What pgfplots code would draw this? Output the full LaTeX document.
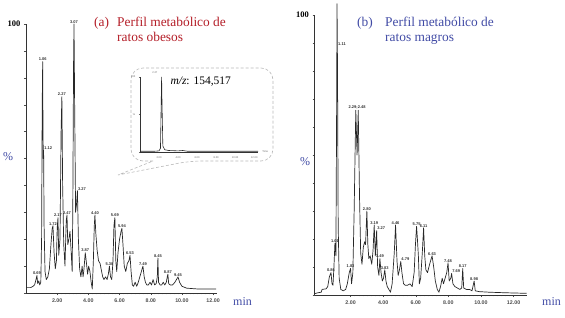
\documentclass[border=0pt]{standalone}
\usepackage{fontspec}
\setmainfont{Liberation Serif}
\newfontfamily\arial{Liberation Sans}
\usepackage{pgfplots}
\pgfplotsset{compat=1.18}
\definecolor{tred}{RGB}{180,30,40}
\definecolor{tblue}{RGB}{65,75,165}
\definecolor{chrom}{RGB}{40,40,40}

\tikzset{lab/.style={font=\arial\bfseries\fontsize{4bp}{4.5bp}\selectfont, text=black!80, inner sep=0.5pt}}

\pgfplotsset{
  chromstyle/.style={
    scale only axis, axis lines=left,
    axis line style={-, black!80, line width=0.55pt},
    tick align=outside, tick style={black!70, line width=0.4pt},
    major tick length=2.2bp, minor tick length=1.4bp,
    xtick={2,4,6,8,10,12}, xticklabels={2.00,4.00,6.00,8.00,10.00,12.00},
    minor x tick num=7,
    ytick={0,10,...,100}, yticklabels={,,,,,,,,,,100},
    xticklabel style={font=\arial\bfseries\fontsize{5.3bp}{6bp}\selectfont, text=black!70},
    yticklabel style={font=\bfseries\fontsize{8.5bp}{10bp}\selectfont},
    ymin=0, ymax=100, clip=false,
  },
  peaklab/.style={draw=none, nodes near coords, point meta=explicit symbolic,
    every node near coord/.append style={font=\arial\bfseries\fontsize{4bp}{4.5bp}\selectfont,
      text=black!80, inner sep=0.5pt, anchor=#1}},
  peaklab/.default=south,
  chromline/.style={chrom, line width=0.7pt, line join=round},
}

\pgfplotstableread{
t y
0.00 2.0
0.30 2.0
0.45 2.5
0.55 3.0
0.62 4.5
0.70 6.5
0.75 3.5
0.82 4.5
0.88 3.0
0.95 4.0
1.00 20
1.04 70
1.07 86
1.09 60
1.11 50
1.13 53
1.16 25
1.22 8
1.30 5
1.40 6
1.50 9
1.60 18
1.68 24
1.73 25
1.80 15
1.88 9
1.95 12
2.00 24
2.05 28
2.10 14
2.18 20
2.25 60
2.30 73
2.35 40
2.42 18
2.50 10
2.58 27
2.63 29
2.68 18
2.75 20
2.82 23
2.90 15
2.96 8
3.00 30
3.05 85
3.08 100
3.12 70
3.18 30
3.24 33
3.30 38
3.36 20
3.44 9
3.52 6
3.60 10
3.66 6
3.72 9
3.80 15
3.88 11
3.95 7
4.02 10
4.10 8
4.18 4
4.25 1.5
4.32 12
4.38 25
4.42 29
4.48 22
4.56 16
4.65 12
4.75 11
4.85 8
4.92 6
5.00 5
5.10 6
5.20 5
5.28 7
5.35 10
5.42 6
5.50 5
5.58 12
5.64 25
5.70 28
5.76 12
5.82 8
5.90 15
6.00 20
6.10 23
6.15 24
6.22 18
6.30 10
6.40 8
6.50 11
6.60 12
6.67 14
6.74 8
6.82 3
6.90 2.5
7.00 4
7.10 2.5
7.20 4
7.30 6
7.40 8
7.50 10
7.58 6
7.66 4
7.75 3
7.85 3
7.95 4
8.05 3
8.15 5
8.25 3
8.35 3.5
8.42 6
8.46 13
8.50 4
8.60 3
8.70 3
8.80 4
8.90 3
9.00 4
9.06 6
9.10 7
9.15 3.5
9.25 3
9.40 3
9.55 4
9.65 5
9.75 6
9.85 4
10.00 2.5
10.30 1.8
11.00 1.5
12.00 1.5
12.20 1.5
}\obesos

\pgfplotstableread{
t y l
0.70 6.5 0.69
1.07 86 1.06
1.73 25 1.72
2.05 28 2.17
2.30 73 2.27
2.63 29 2.47
3.08 100 3.07
3.80 15 3.87
4.42 29 4.40
5.35 10 5.30
5.70 28 5.69
6.15 24 5.94
6.67 14 6.53
7.50 10 7.49
8.46 13 8.45
9.10 7 8.87
9.75 6 9.45
}\obesoslab

\pgfplotstableread{
t y l
1.13 53 1.12
3.30 38 3.27
}\obesoslabw

\pgfplotstableread{
t y
-0.20 0.5
0.00 0.8
0.20 1.0
0.25 2.0
0.50 2.2
0.60 3.0
0.70 6.5
0.80 8.0
0.86 4.0
0.92 3.5
0.98 10
1.04 18.5
1.10 14
1.14 60
1.17 104
1.20 80
1.24 25
1.30 6
1.40 2
1.55 1.5
1.70 2
1.80 4
1.92 8
2.00 9.5
2.06 4
2.14 8
2.22 30
2.32 66
2.40 50
2.47 66
2.55 35
2.62 15
2.70 11
2.78 17
2.86 19
2.92 18
3.00 30
3.06 18
3.12 13
3.20 14
3.30 11
3.38 16
3.45 25
3.52 14
3.60 23
3.66 10
3.74 7
3.80 13
3.87 8
3.95 5
4.02 6
4.10 9
4.17 5
4.25 3
4.35 2
4.45 1
4.55 4
4.68 15
4.76 25
4.85 12
4.92 7
5.00 9
5.08 12
5.15 8
5.25 4
5.35 3.5
5.50 3.5
5.65 4
5.78 3
5.90 8
5.98 18
6.05 24.5
6.10 20
6.16 14
6.22 4
6.30 6
6.40 15
6.48 24
6.55 14
6.62 9
6.72 8
6.85 11
7.00 14
7.10 10
7.20 5
7.32 2
7.42 1
7.52 3
7.62 6
7.70 4
7.80 6
7.90 8
7.98 11.5
8.05 5
8.15 6
8.20 7.7
8.28 4
8.40 3
8.55 2.5
8.70 2
8.82 2.5
8.88 9.5
8.94 2.5
9.10 2
9.30 2
9.45 1.5
9.58 5
9.65 1.5
9.90 1.2
10.50 1.0
11.50 0.8
12.80 0.6
}\magros

\pgfplotstableread{
t y l
0.80 8 0.86
1.04 18.5 1.01
2.00 9.5 1.83
3.00 30 2.80
3.45 25 3.19
3.80 13 3.49
4.10 9 3.83
4.76 25 4.46
6.05 24.5 5.75
6.48 24 6.11
7.00 14 6.63
7.98 11.5 7.48
8.88 9.5 8.17
9.58 5 8.98
}\magroslab

\pgfplotstableread{
t y l
1.20 89 1.11
3.60 23 3.27
5.08 12 4.79
8.20 7.7 7.69
}\magroslabw

\pgfplotstableread{
t y
0.00 1
1.50 1
2.00 1.5
2.15 5
2.22 60
2.27 100
2.32 60
2.40 8
2.60 3
3.00 2
4.00 1.5
4.50 2
5.00 1
8.00 1
12.40 1
}\inset

\begin{document}
\begin{tikzpicture}[x=1bp,y=1bp]
\path[use as bounding box] (0,0) rectangle (565,317);

% ---------- left panel ----------
\begin{axis}[chromstyle, at={(26bp,24bp)}, anchor=south west,
  width=191bp, height=269bp, xmin=0, xmax=12.25]
\addplot[chromline] table[x=t,y=y] {\obesos};
\addplot[peaklab] table[x=t,y=y,meta=l] {\obesoslab};
\addplot[peaklab=south west] table[x=t,y=y,meta=l] {\obesoslabw};
\end{axis}

% ---------- right panel ----------
\begin{axis}[chromstyle, at={(314.7bp,22bp)}, anchor=south west,
  width=211.9bp, height=280bp, xmin=-0.2, xmax=12.8]
\addplot[chromline] table[x=t,y=y] {\magros};
\addplot[peaklab] table[x=t,y=y,meta=l] {\magroslab};
\addplot[peaklab=south west] table[x=t,y=y,meta=l] {\magroslabw};
\node[lab, anchor=south] at (axis cs:2.40,66) {2.29;2.48};
\end{axis}

% ---------- callout ----------
\draw[gray!55, densely dashed, line width=0.6pt]
  (153,156) [rounded corners=12bp] -- (131,156) -- (131,249) -- (273,249) -- (273,156) -- (190,156)
  [sharp corners] -- (118,142) -- (153,156);

\begin{axis}[scale only axis, at={(140bp,165bp)}, anchor=south west,
  width=118bp, height=75bp, xmin=0, xmax=12.4, ymin=0, ymax=100,
  axis lines=left, axis line style={-, black!80, line width=0.45pt},
  tick align=outside, tick style={black!60, line width=0.3pt},
  major tick length=1.2bp, minor tick length=0.8bp,
  xtick={2,4,6,8,10,12}, xticklabels={2.00,4.00,6.00,8.00,10.00,12.00},
  minor x tick num=3,
  ytick={0,50,100}, yticklabels={,\%,100},
  xticklabel style={font=\arial\fontsize{2.6bp}{3bp}\selectfont, text=black!60},
  yticklabel style={font=\arial\fontsize{2.6bp}{3bp}\selectfont, text=black!60},
  clip=false]
\addplot[chrom, line width=0.6pt] table[x=t,y=y] {\inset};
\node[font=\arial\fontsize{2.6bp}{3bp}\selectfont, text=black!60, anchor=west] at (axis cs:12.5,0) {Time};
\node[font=\arial\fontsize{2.6bp}{3bp}\selectfont, text=black!60, anchor=south east] at (axis cs:2.2,100) {2.27};
\end{axis}
\node[anchor=base west, font=\fontsize{11.5bp}{13bp}\selectfont] at (167,233) {\textit{m/z}: 154,517};

% ---------- titles and labels ----------
\node[anchor=base west, inner sep=0, text=tred, font=\fontsize{13.4bp}{16bp}\selectfont] at (94,291) {(a)};
\node[anchor=base west, inner sep=0, text=tred, font=\fontsize{13.4bp}{16bp}\selectfont] at (117,291) {Perfil metabólico de};
\node[anchor=base west, inner sep=0, text=tred, font=\fontsize{13.4bp}{16bp}\selectfont] at (117,276) {ratos obesos};

\node[anchor=base west, inner sep=0, text=tblue, font=\fontsize{13.4bp}{16bp}\selectfont] at (357,291) {(b)};
\node[anchor=base west, inner sep=0, text=tblue, font=\fontsize{13.4bp}{16bp}\selectfont] at (385,291) {Perfil metabólico de};
\node[anchor=base west, inner sep=0, text=tblue, font=\fontsize{13.4bp}{16bp}\selectfont] at (385,276) {ratos magros};

\node[inner sep=0, text=tblue, font=\fontsize{12bp}{14bp}\selectfont] at (8,160) {\%};
\node[inner sep=0, text=tblue, font=\fontsize{12bp}{14bp}\selectfont] at (305,155) {\%};
\node[anchor=base west, inner sep=0, text=tblue, font=\fontsize{12bp}{14bp}\selectfont] at (233,12) {min};
\node[anchor=base west, inner sep=0, text=tblue, font=\fontsize{12bp}{14bp}\selectfont] at (542,12) {min};
\end{tikzpicture}
\end{document}
